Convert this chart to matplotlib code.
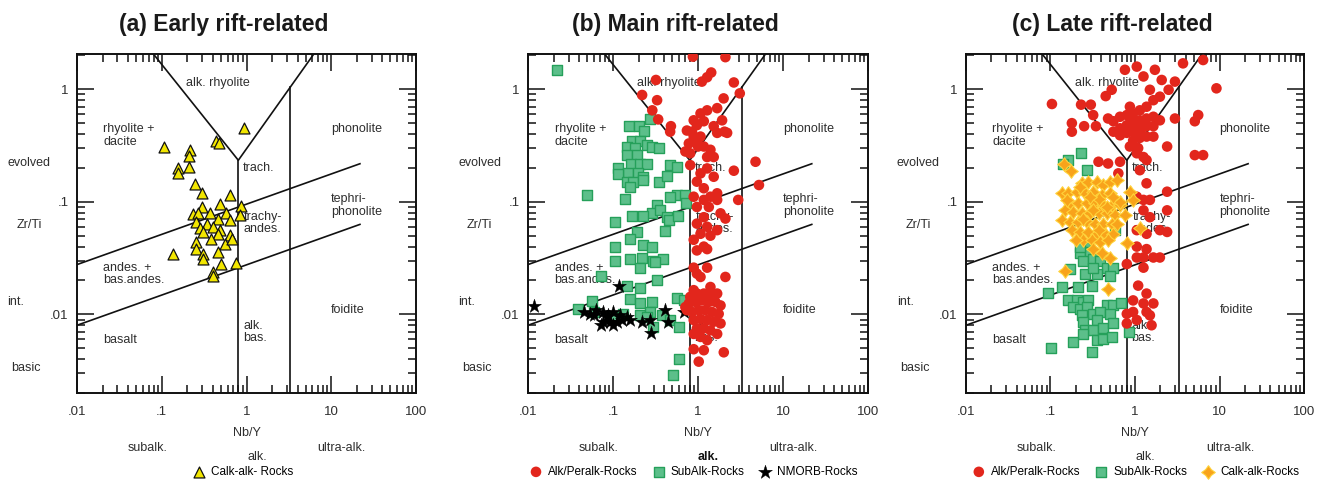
import matplotlib
matplotlib.use("Agg")
import matplotlib.pyplot as plt
import numpy as np
from matplotlib.path import Path
from matplotlib.ticker import FixedLocator, FixedFormatter, LogLocator, NullFormatter

plt.rcParams['font.family'] = ['Liberation Sans', 'DejaVu Sans']

## DATA  (Nb/Y, Zr/Ti)

# (a) early rift
early_calk = [(0.93, 0.45), (0.44, 0.35), (0.47, 0.33), (0.106, 0.309), (0.213, 0.288),
              (0.21, 0.255), (0.156, 0.198), (0.156, 0.181), (0.21, 0.205), (0.249, 0.143),
              (0.299, 0.120), (0.63, 0.115), (0.87, 0.0915), (0.49, 0.0966), (0.295, 0.090),
              (0.233, 0.0787), (0.267, 0.079), (0.367, 0.079), (0.578, 0.079), (0.83, 0.076),
              (0.46, 0.071), (0.63, 0.0687), (0.256, 0.0664), (0.34, 0.064), (0.28, 0.058),
              (0.40, 0.060), (0.48, 0.056), (0.31, 0.054), (0.46, 0.052), (0.63, 0.051),
              (0.38, 0.047), (0.55, 0.0426), (0.256, 0.044), (0.136, 0.0347), (0.256, 0.0377),
              (0.31, 0.0347), (0.31, 0.0313), (0.46, 0.0359), (0.50, 0.0283), (0.76, 0.0288),
              (0.40, 0.0238), (0.40, 0.0218), (0.68, 0.047)]

# (b) main rift
main_alk = [(0.87, 1.95), (2.10, 1.93), (0.32, 1.21), (1.43, 1.41), (1.28, 1.28), (1.11, 1.17),
            (2.64, 1.15), (0.22, 0.89), (0.33, 0.80), (2.0, 0.83), (3.1, 0.92), (0.29, 0.65),
            (0.34, 0.54), (0.48, 0.47), (0.47, 0.42), (0.74, 0.43), (0.89, 0.53), (1.07, 0.61),
            (1.28, 0.65), (1.68, 0.68), (1.92, 0.53), (2.05, 0.42), (1.53, 0.47), (0.97, 0.48),
            (1.17, 0.52), (0.89, 0.38), (0.97, 0.35), (0.78, 0.33), (0.71, 0.28), (0.81, 0.27),
            (1.17, 0.31), (1.40, 0.29), (1.53, 0.25), (1.28, 0.25), (1.68, 0.41), (2.2, 0.41),
            (1.0, 0.31), (1.07, 0.38), (0.85, 0.42), (0.81, 0.212), (1.28, 0.198), (1.07, 0.179),
            (1.53, 0.167), (2.64, 0.189), (4.75, 0.227), (5.21, 0.141), (0.97, 0.151), (1.17, 0.132),
            (1.68, 0.119), (1.40, 0.111), (0.89, 0.111), (1.68, 0.104), (1.17, 0.104), (2.97, 0.104),
            (0.97, 0.090), (1.34, 0.090), (1.84, 0.079), (2.10, 0.071), (1.17, 0.073), (0.97, 0.064),
            (1.28, 0.060), (1.68, 0.056), (1.07, 0.052), (1.40, 0.050), (0.89, 0.046), (1.17, 0.040),
            (0.97, 0.037), (1.28, 0.038), (0.89, 0.026), (1.28, 0.026), (0.97, 0.023), (1.07, 0.0215),
            (2.10, 0.0215), (1.40, 0.0175), (0.89, 0.0164), (0.81, 0.0143), (0.97, 0.0153),
            (1.17, 0.0153), (1.40, 0.0153), (1.68, 0.0153), (0.78, 0.0125), (0.93, 0.0129),
            (1.11, 0.0133), (1.34, 0.0129), (1.60, 0.0129), (1.84, 0.0120), (0.85, 0.0105),
            (1.02, 0.0109), (1.22, 0.0109), (1.46, 0.0105), (1.75, 0.0101), (0.89, 0.0089),
            (1.07, 0.0091), (1.28, 0.0089), (1.53, 0.0086), (1.84, 0.0083), (0.97, 0.0075),
            (1.17, 0.0075), (1.40, 0.0072), (1.68, 0.0067), (1.07, 0.0063), (1.28, 0.0059),
            (0.89, 0.0049), (1.17, 0.0048), (2.01, 0.0046), (1.02, 0.0038), (0.74, 0.0109),
            (0.89, 0.0067), (0.71, 0.0116)]
main_subalk = [(0.022, 1.49), (0.274, 0.55), (0.155, 0.47), (0.203, 0.47), (0.232, 0.43),
               (0.166, 0.35), (0.208, 0.35), (0.145, 0.31), (0.182, 0.30), (0.25, 0.32),
               (0.145, 0.26), (0.19, 0.26), (0.284, 0.31), (0.343, 0.30), (0.163, 0.219),
               (0.208, 0.219), (0.25, 0.219), (0.114, 0.198), (0.152, 0.179), (0.199, 0.179),
               (0.114, 0.175), (0.228, 0.167), (0.145, 0.151), (0.174, 0.151), (0.224, 0.156),
               (0.159, 0.136), (0.343, 0.151), (0.471, 0.212), (0.565, 0.205), (0.431, 0.170),
               (0.049, 0.116), (0.139, 0.107), (0.565, 0.115), (0.708, 0.115), (0.471, 0.111),
               (0.728, 0.097), (0.328, 0.093), (0.286, 0.079), (0.359, 0.084), (0.431, 0.073),
               (0.451, 0.069), (0.166, 0.075), (0.228, 0.075), (0.58, 0.075), (0.106, 0.066),
               (0.19, 0.054), (0.159, 0.047), (0.411, 0.055), (0.228, 0.041), (0.286, 0.040),
               (0.106, 0.040), (0.159, 0.031), (0.218, 0.032), (0.386, 0.031), (0.299, 0.030),
               (0.106, 0.030), (0.208, 0.026), (0.313, 0.029), (0.073, 0.0218), (0.145, 0.0177),
               (0.208, 0.0173), (0.328, 0.020), (0.16, 0.0138), (0.208, 0.0125), (0.284, 0.0129),
               (0.565, 0.0140), (0.69, 0.0133), (0.056, 0.0131), (0.039, 0.0112), (0.059, 0.0105),
               (0.205, 0.0098), (0.274, 0.0105), (0.376, 0.0098), (0.471, 0.0089), (0.299, 0.0077),
               (0.591, 0.0077), (0.591, 0.0040), (0.502, 0.0029), (0.25, 0.0095), (0.132, 0.0101),
               (0.096, 0.0095)]
main_nmorb = [(0.0118, 0.0119), (0.045, 0.0106), (0.063, 0.0109), (0.059, 0.0098), (0.077, 0.0105),
              (0.088, 0.0098), (0.101, 0.0105), (0.121, 0.0098), (0.145, 0.0095), (0.077, 0.0086),
              (0.092, 0.0086), (0.110, 0.0086), (0.073, 0.0080), (0.101, 0.0080), (0.159, 0.0090),
              (0.218, 0.0086), (0.274, 0.0089), (0.404, 0.0110), (0.442, 0.0086), (0.279, 0.0068),
              (0.118, 0.018), (0.678, 0.0106), (0.053, 0.0101), (0.084, 0.0095), (0.127, 0.0089)]

# (c) late rift
late_alk = [(0.104, 0.74), (0.23, 0.73), (0.30, 0.73), (0.32, 0.59), (0.45, 0.87), (0.53, 0.99),
            (0.76, 1.49), (1.05, 1.59), (1.26, 1.30), (1.72, 1.49), (2.07, 1.21), (2.5, 0.99),
            (2.97, 1.17), (3.7, 1.70), (6.4, 1.82), (9.2, 1.02), (0.179, 0.50), (0.25, 0.47),
            (0.345, 0.47), (0.179, 0.42), (0.48, 0.55), (0.555, 0.52), (0.665, 0.57), (0.80, 0.59),
            (0.95, 0.61), (1.14, 0.65), (1.37, 0.70), (1.65, 0.80), (1.97, 0.86), (0.665, 0.45),
            (0.80, 0.48), (0.95, 0.52), (1.14, 0.53), (1.37, 0.55), (1.65, 0.57), (0.555, 0.42),
            (0.665, 0.39), (0.80, 0.41), (0.95, 0.42), (1.14, 0.43), (1.37, 0.47), (1.65, 0.47),
            (1.97, 0.53), (0.95, 0.35), (1.14, 0.37), (1.37, 0.38), (1.65, 0.38), (0.87, 0.31),
            (1.09, 0.30), (2.4, 0.31), (2.97, 0.55), (5.1, 0.52), (5.6, 0.59), (5.1, 0.26),
            (6.4, 0.26), (0.37, 0.227), (0.48, 0.219), (0.665, 0.227), (0.635, 0.179), (1.05, 0.27),
            (1.26, 0.25), (1.37, 0.235), (1.14, 0.191), (1.37, 0.146), (2.4, 0.123), (1.05, 0.111),
            (1.26, 0.104), (1.50, 0.104), (1.26, 0.084), (1.50, 0.073), (2.4, 0.084), (1.97, 0.056),
            (2.4, 0.054), (1.05, 0.056), (1.37, 0.052), (1.05, 0.040), (1.37, 0.038), (1.05, 0.032),
            (1.26, 0.032), (1.65, 0.032), (1.97, 0.032), (0.80, 0.028), (1.26, 0.026), (1.09, 0.018),
            (1.37, 0.0153), (0.95, 0.0133), (1.26, 0.0125), (1.65, 0.0125), (0.95, 0.0105),
            (1.37, 0.0105), (0.80, 0.0101), (1.05, 0.0089), (1.50, 0.0098), (0.80, 0.0083),
            (1.57, 0.0080), (0.87, 0.70), (1.50, 0.99), (1.2, 0.45), (1.0, 0.5), (0.9, 0.45)]
late_subalk = [(0.163, 0.235), (0.228, 0.27), (0.139, 0.219), (0.274, 0.191), (0.257, 0.040),
               (0.224, 0.035), (0.293, 0.036), (0.245, 0.030), (0.322, 0.031), (0.386, 0.030),
               (0.464, 0.026), (0.555, 0.026), (0.171, 0.0255), (0.257, 0.023), (0.353, 0.023),
               (0.505, 0.022), (0.136, 0.0175), (0.214, 0.0175), (0.307, 0.018), (0.094, 0.0155),
               (0.163, 0.0133), (0.205, 0.0133), (0.245, 0.0129), (0.28, 0.0133), (0.187, 0.0116),
               (0.224, 0.0112), (0.27, 0.0116), (0.464, 0.0120), (0.555, 0.0120), (0.69, 0.0125),
               (0.234, 0.0098), (0.322, 0.0101), (0.386, 0.0105), (0.505, 0.0101), (0.245, 0.0086),
               (0.353, 0.0089), (0.257, 0.0072), (0.322, 0.0072), (0.42, 0.0075), (0.555, 0.0083),
               (0.245, 0.0067), (0.353, 0.0059), (0.42, 0.0061), (0.53, 0.0063), (0.187, 0.0057),
               (0.101, 0.0050), (0.307, 0.0046), (0.84, 0.0069), (0.58, 0.056), (0.224, 0.040),
               (0.322, 0.026)]
late_calk = [(0.146, 0.216), (0.176, 0.189), (0.136, 0.119), (0.163, 0.119), (0.234, 0.146),
             (0.28, 0.151), (0.353, 0.151), (0.42, 0.141), (0.505, 0.151), (0.61, 0.156),
             (0.205, 0.123), (0.257, 0.119), (0.322, 0.123), (0.404, 0.115), (0.505, 0.119),
             (0.87, 0.123), (0.171, 0.097), (0.214, 0.097), (0.27, 0.097), (0.337, 0.097),
             (0.42, 0.093), (0.53, 0.093), (0.665, 0.093), (0.149, 0.084), (0.187, 0.081),
             (0.234, 0.079), (0.293, 0.079), (0.37, 0.079), (0.464, 0.079), (0.58, 0.076),
             (0.76, 0.076), (0.136, 0.069), (0.171, 0.066), (0.214, 0.066), (0.27, 0.066),
             (0.337, 0.064), (0.42, 0.064), (0.53, 0.064), (0.179, 0.056), (0.224, 0.054),
             (0.28, 0.054), (0.353, 0.052), (0.442, 0.052), (0.555, 0.052), (0.245, 0.046),
             (0.307, 0.046), (0.386, 0.044), (0.48, 0.046), (0.322, 0.038), (0.404, 0.035),
             (0.505, 0.032), (0.80, 0.043), (1.14, 0.058), (0.149, 0.0243), (0.48, 0.0169),
             (0.665, 0.100), (0.95, 0.104), (0.224, 0.136), (0.37, 0.107), (0.293, 0.111),
             (0.555, 0.111), (0.155, 0.104), (0.245, 0.071), (0.322, 0.084), (0.464, 0.090),
             (0.61, 0.064), (0.20, 0.046), (0.37, 0.056)]

# field boundaries (Pearce 1996 Nb/Y - Zr/Ti)
bound_lines = [
    [(0.08, 2.05), (0.8, 0.234), (6.2, 2.05)],
    [(0.8, 0.234), (0.8, 0.002)],
    [(3.3, 1.05), (3.3, 0.002)],
    [(0.01, 0.0277), (21.8, 0.218)],
    [(0.01, 0.008), (21.8, 0.063)],
]
field_labels = [("alk. rhyolite", 0.46, 1.13, 'center'), ("rhyolite +\ndacite", 0.0205, 0.39, 'left'),
                ("trach.", 0.91, 0.198, 'left'), ("trachy-\nandes.", 0.93, 0.065, 'left'),
                ("andes. +\nbas.andes.", 0.0205, 0.0229, 'left'), ("basalt", 0.0205, 0.0059, 'left'),
                ("alk.\nbas.", 0.91, 0.0070, 'left'), ("phonolite", 10.0, 0.444, 'left'),
                ("tephri-\nphonolite", 10.0, 0.0927, 'left'), ("foidite", 10.0, 0.0109, 'left')]

xticks = [0.01, 0.1, 1, 10, 100]
xticklabels = ['.01', '.1', '1', '10', '100']
yticks = [0.01, 0.1, 1]
yticklabels = ['.01', '.1', '1']

titles = ['(a) Early rift-related', '(b) Main rift-related', '(c) Late rift-related']

txtc = '#2e2e2e'
red = '#e2261c'
green_f, green_e = '#5cbf8a', '#25a05a'
orange_f, orange_e = '#f8a31b', '#ffd23a'

# fat four-point star for the calc-alkaline symbol
ri = 0.42
star4 = Path([(0, 1), (ri, ri), (1, 0), (ri, -ri), (0, -1), (-ri, -ri), (-1, 0), (-ri, ri), (0, 1)],
             [Path.MOVETO] + [Path.LINETO] * 7 + [Path.CLOSEPOLY])


def base_panel(ax, title, bold_alk=False):
    ax.set_xscale('log')
    ax.set_yscale('log')
    ax.set_xlim(0.01, 100)
    ax.set_ylim(0.002, 2.05)
    for line in bound_lines:
        xs, ys = zip(*line)
        ax.plot(xs, ys, color='#111111', lw=1.2, zorder=2)
    for txt, x, y, ha in field_labels:
        ax.text(x, y, txt, ha=ha, va='center', fontsize=9, color=txtc, linespacing=1.05, zorder=1)
    ax.xaxis.set_major_locator(FixedLocator(xticks))
    ax.xaxis.set_major_formatter(FixedFormatter(xticklabels))
    ax.yaxis.set_major_locator(FixedLocator(yticks))
    ax.yaxis.set_major_formatter(FixedFormatter(yticklabels))
    ax.xaxis.set_minor_locator(LogLocator(base=10, subs=np.arange(2, 10)))
    ax.yaxis.set_minor_locator(LogLocator(base=10, subs=np.arange(2, 10)))
    ax.xaxis.set_minor_formatter(NullFormatter())
    ax.yaxis.set_minor_formatter(NullFormatter())
    ax.tick_params(which='both', direction='in', top=True, right=True, colors='#111111',
                   labelcolor=txtc, labelsize=9.5)
    ax.tick_params(which='major', length=12, width=1.1)
    ax.tick_params(which='minor', length=6, width=1.1)
    ax.tick_params(axis='x', pad=9)
    ax.tick_params(axis='y', pad=6)
    for s in ax.spines.values():
        s.set_linewidth(1.4)
        s.set_color('#111111')
    tr = ax.transAxes
    ax.text(0.432, 1.088, title, transform=tr, ha='center', va='center', fontsize=16.5,
            fontweight='bold', color='#1a1a1a')
    ax.text(-0.142, 0.678, 'evolved', transform=tr, ha='center', va='center', fontsize=9, color=txtc)
    ax.text(-0.142, 0.496, 'Zr/Ti', transform=tr, ha='center', va='center', fontsize=9, color=txtc)
    ax.text(-0.180, 0.268, 'int.', transform=tr, ha='center', va='center', fontsize=9, color=txtc)
    ax.text(-0.150, 0.074, 'basic', transform=tr, ha='center', va='center', fontsize=9, color=txtc)
    ax.text(0.50, -0.118, 'Nb/Y', transform=tr, ha='center', va='center', fontsize=9, color=txtc)
    ax.text(0.208, -0.162, 'subalk.', transform=tr, ha='center', va='center', fontsize=9, color=txtc)
    ax.text(0.781, -0.162, 'ultra-alk.', transform=tr, ha='center', va='center', fontsize=9, color=txtc)
    ax.text(0.531, -0.189, 'alk.', transform=tr, ha='center', va='center', fontsize=9,
            color='#111111' if bold_alk else txtc, fontweight='bold' if bold_alk else 'normal')


fig = plt.figure(figsize=(13.24, 4.84), dpi=100)
ax_a = fig.add_axes([0.0582, 0.188, 0.256, 0.700])
ax_b = fig.add_axes([0.3988, 0.188, 0.2568, 0.700])
ax_c = fig.add_axes([0.7296, 0.188, 0.2553, 0.700])

leg_kw = dict(loc='center', frameon=False, fontsize=8.5, handletextpad=0.5,
              columnspacing=1.3, handlelength=1.0, borderaxespad=0)

# (a)
base_panel(ax_a, titles[0])
d = np.array(early_calk)
ax_a.scatter(d[:, 0], d[:, 1], marker='^', s=62, facecolor='#f2e600', edgecolor='#111111',
             linewidths=0.9, zorder=3, label='Calk-alk- Rocks')
ax_a.legend(bbox_to_anchor=(0.49, -0.233), ncol=1, **leg_kw)

# (b)
base_panel(ax_b, titles[1], bold_alk=True)
g = np.array(main_subalk)
hg = ax_b.scatter(g[:, 0], g[:, 1], marker='s', s=42, facecolor=green_f, edgecolor=green_e,
                  linewidths=1.0, zorder=3, label='SubAlk-Rocks')
st = np.array(main_nmorb)
hs = ax_b.scatter(st[:, 0], st[:, 1], marker='*', s=110, facecolor='#000000', edgecolor='#000000',
                  linewidths=0.3, zorder=4, label='NMORB-Rocks')
r = np.array(main_alk)
hr = ax_b.scatter(r[:, 0], r[:, 1], marker='o', s=58, facecolor=red, edgecolor='none',
                  zorder=5, label='Alk/Peralk-Rocks')
ax_b.legend(handles=[hr, hg, hs], bbox_to_anchor=(0.488, -0.233), ncol=3, **leg_kw)

# (c)
base_panel(ax_c, titles[2])
g = np.array(late_subalk)
hg = ax_c.scatter(g[:, 0], g[:, 1], marker='s', s=42, facecolor=green_f, edgecolor=green_e,
                  linewidths=1.0, zorder=3, label='SubAlk-Rocks')
r = np.array(late_alk)
hr = ax_c.scatter(r[:, 0], r[:, 1], marker='o', s=58, facecolor=red, edgecolor='none',
                  zorder=4, label='Alk/Peralk-Rocks')
o = np.array(late_calk)
ho = ax_c.scatter(o[:, 0], o[:, 1], marker=star4, s=95, facecolor=orange_f, edgecolor=orange_e,
                  linewidths=0.8, zorder=5, label='Calk-alk-Rocks')
ax_c.legend(handles=[hr, hg, ho], bbox_to_anchor=(0.503, -0.233), ncol=3, **leg_kw)

fig.savefig('out.png', dpi=100)
